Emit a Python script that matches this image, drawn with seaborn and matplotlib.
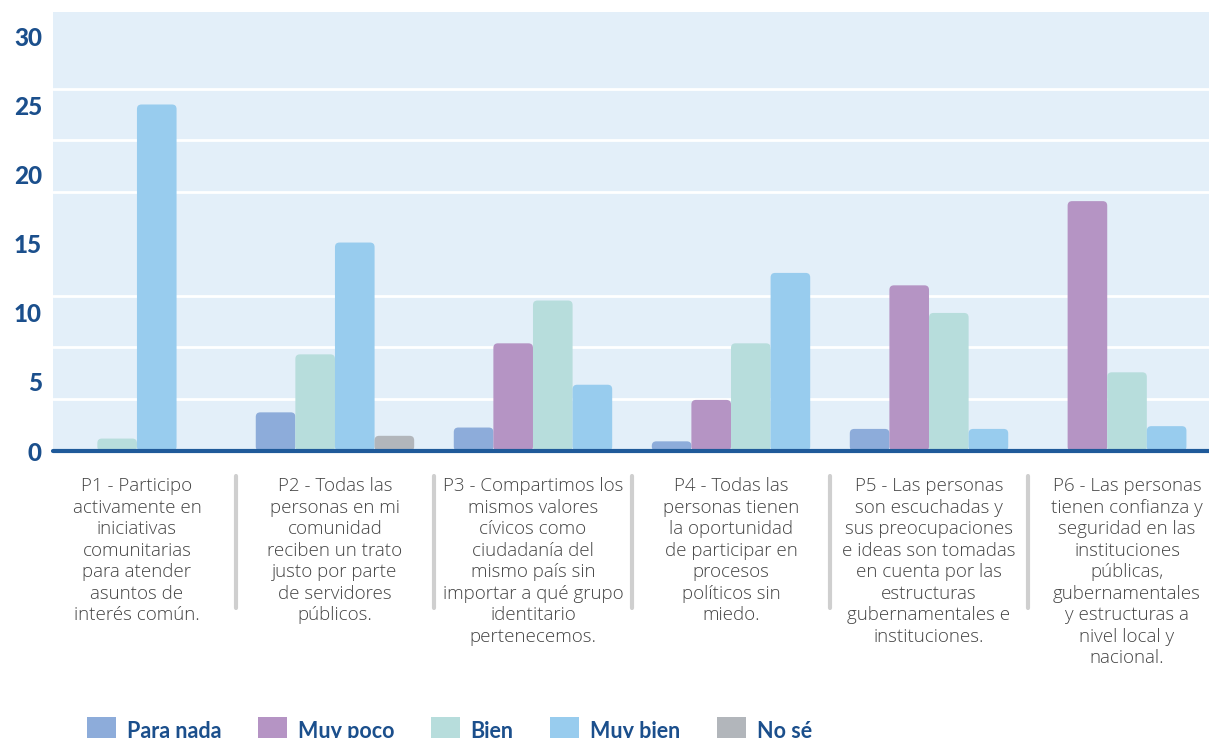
import numpy as np
import pandas as pd
import matplotlib
matplotlib.use("Agg")
import matplotlib.pyplot as plt
import seaborn as sns
from matplotlib.patches import FancyBboxPatch, Patch

# ================================
# Data
# ================================
questions = [
    "P1 - Participo\nactivamente en\niniciativas\ncomunitarias\npara atender\nasuntos de\ninterés común.",
    "P2 - Todas las\npersonas en mi\ncomunidad\nreciben un trato\njusto por parte\nde servidores\npúblicos.",
    "P3 - Compartimos los\nmismos valores\ncívicos como\nciudadanía del\nmismo país sin\nimportar a qué grupo\nidentitario\npertenecemos.",
    "P4 - Todas las\npersonas tienen\nla oportunidad\nde participar en\nprocesos\npolíticos sin\nmiedo.",
    "P5 - Las personas\nson escuchadas y\nsus preocupaciones\ne ideas son tomadas\nen cuenta por las\nestructuras\ngubernamentales e\ninstituciones.",
    "P6 - Las personas\ntienen confianza y\nseguridad en las\ninstituciones\npúblicas,\ngubernamentales\ny estructuras a\nnivel local y\nnacional.",
]
categories = ["Para nada", "Muy poco", "Bien", "Muy bien", "No sé"]

para_nada = [None, 2.8, 1.7, 0.7, 1.6, None]
muy_poco = [None, None, 7.8, 3.7, 12.0, 18.1]
bien = [0.9, 7.0, 10.9, 7.8, 10.0, 5.7]
muy_bien = [25.1, 15.1, 4.8, 12.9, 1.6, 1.8]
no_se = [None, 1.1, None, None, None, None]

colors = {
    "Para nada": "#8DACDA",
    "Muy poco": "#B594C4",
    "Bien": "#B7DDDC",
    "Muy bien": "#98CCEE",
    "No sé": "#B2B6BB",
}
navy = "#1B4F8C"

# long table, bars packed side by side inside each question group
series = [para_nada, muy_poco, bien, muy_bien, no_se]
rows = []
for qi in range(len(questions)):
    present = [(c, s[qi]) for c, s in zip(categories, series) if s[qi] is not None]
    n = len(present)
    for k, (c, v) in enumerate(present):
        rows.append({"pos": round(qi + (k - (n - 1) / 2) * 0.2, 3), "value": v, "categoria": c})
df = pd.DataFrame(rows)

# ================================
# Plot
# ================================
sns.set_theme(style="white")
plt.rcParams["font.family"] = ["Lato", "DejaVu Sans"]

fig = plt.figure(figsize=(12.09, 7.38), dpi=100)
ax = fig.add_axes([53 / 1209, 1 - 451 / 738, 1 - 53 / 1209, 439 / 738])
ax.set_facecolor("#E3EFF9")

sns.barplot(data=df, x="pos", y="value", hue="categoria", palette=colors,
            hue_order=categories, native_scale=True, width=1.0, dodge=False,
            errorbar=None, saturation=1, legend=False, linewidth=0, ax=ax, zorder=3)

ax.set_xlim(-0.424, 5.414)
ax.set_ylim(0, 31.8)

# rounded bar tops
px_x = 1156 / (5.414 + 0.424)
px_y = 439 / 31.8
r = 4.5
for p in list(ax.patches):
    x0, y0 = p.get_x(), p.get_y()
    w, h = p.get_width(), p.get_height()
    fb = FancyBboxPatch((x0, y0), w, h,
                        boxstyle=f"round,pad=0,rounding_size={r / px_x}",
                        mutation_aspect=(r / px_y) / (r / px_x),
                        facecolor=p.get_facecolor(), edgecolor="none", zorder=3)
    p.remove()
    ax.add_patch(fb)

# grid: white lines every 3.75 units, labels every 5
ax.set_yticks(np.arange(0, 31, 5))
ax.set_yticks(np.arange(3.75, 31, 3.75), minor=True)
ax.grid(False)
ax.grid(True, axis="y", which="minor", color="white", linewidth=2, zorder=1)
ax.tick_params(axis="y", which="both", length=0, pad=8, labelsize=17.5,
               labelcolor=navy)
for t in ax.get_yticklabels():
    t.set_fontweight("black")

ax.set_xticks(range(len(questions)))
ax.set_xticklabels(questions, fontsize=13.5, color="#444444", linespacing=1.25,
                   family=["Open Sans", "DejaVu Sans"], fontweight="light")
ax.tick_params(axis="x", length=0, pad=19)
ax.set_xlabel("")
ax.set_ylabel("")

for s in ["top", "right", "left", "bottom"]:
    ax.spines[s].set_visible(False)
ax.axhline(0, color="#1F5A9A", linewidth=3, zorder=5, clip_on=False)

# separators between question labels
for xs in np.arange(0.5, len(questions) - 1, 1.0):
    ax.plot([xs, xs], [-0.057, -0.358], color="#CFCFCF", linewidth=3,
            transform=ax.get_xaxis_transform(), clip_on=False)

# legend at bottom
handles = [Patch(facecolor=colors[c], edgecolor="none") for c in categories]
leg = fig.legend(handles, categories, loc="upper left",
                 bbox_to_anchor=(87 / 1209, 1 - 717 / 738), ncol=5, frameon=False,
                 fontsize=15.5, handlelength=1.35, handleheight=1.6,
                 handletextpad=0.5, columnspacing=1.7, borderpad=0, borderaxespad=0)
for t in leg.get_texts():
    t.set_color(navy)
    t.set_fontweight("bold")

fig.savefig("out.png", dpi=100)
plt.close(fig)
